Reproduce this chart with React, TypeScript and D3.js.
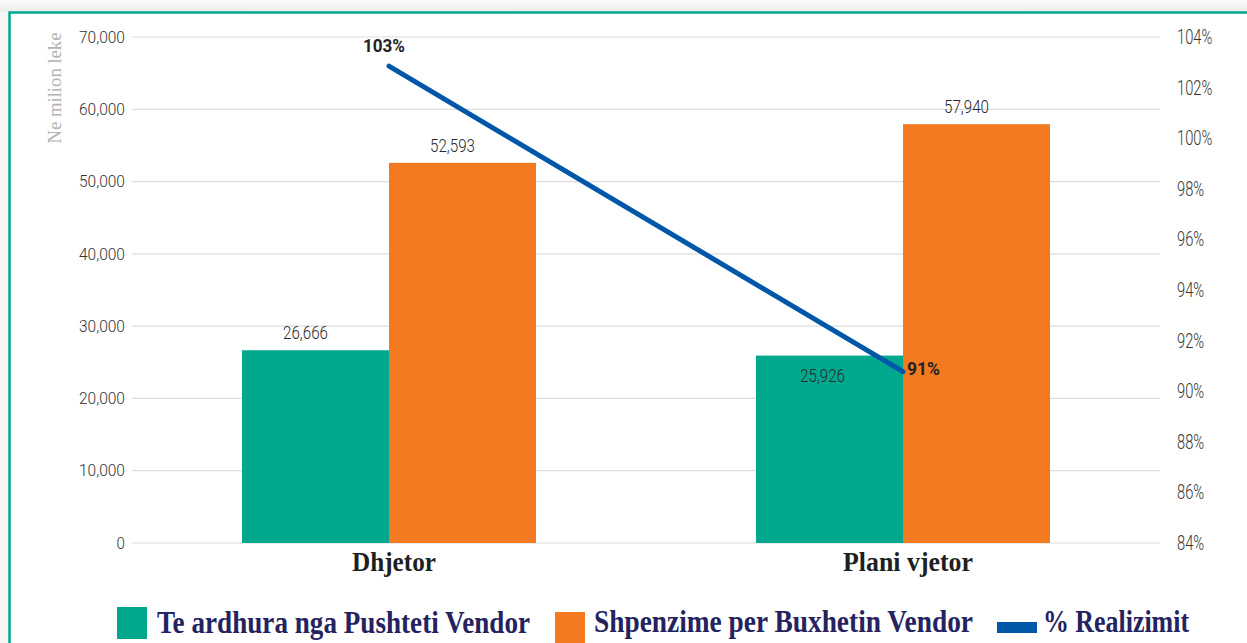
import React from "react";
import * as d3 from "d3";

const categories = ["Dhjetor", "Plani vjetor"];
const revenue = [26666, 25926];
const expenses = [52593, 57940];
const realization = [102.85, 90.77];
const realizationLabels = ["103%", "91%"];
const leftTicks = [0, 10000, 20000, 30000, 40000, 50000, 60000, 70000];
const rightTicks = [84, 86, 88, 90, 92, 94, 96, 98, 100, 102, 104];
const legendLabels = ["Te ardhura nga Pushteti Vendor", "Shpenzime per Buxhetin Vendor", "% Realizimit"];
const yAxisTitle = "Ne milion leke";

const W = 1247;
const H = 643;
const TEAL = "#00a88e";
const ORANGE = "#f47a22";
const BLUE = "#0057a8";
const NAVY = "#25235f";
const SANS = "'Liberation Sans Narrow', Roboto, 'DejaVu Sans Condensed', sans-serif";
const SERIF = "'Liberation Serif', 'DejaVu Serif', serif";

// approximate rendered widths of the condensed numeric face
const numWidth = (s: string, digit: number) =>
  Array.from(s).reduce((a, c) => a + (c === "," ? digit * 0.48 : c === "%" ? digit * 1.35 : digit), 0);

export default function App() {
  const plotL = 132, plotR = 1160, plotT = 37, plotB = 543;
  const y = d3.scaleLinear().domain([0, 70000]).range([plotB, plotT]);
  const y2 = d3.scaleLinear().domain([84, 104]).range([plotB, plotT]);
  const x = d3.scaleBand<string>().domain(categories).range([plotL, plotR]).paddingInner(0.428).paddingOuter(0.214);
  const bw = x.bandwidth() / 2;
  const cx = (c: string) => (x(c) as number) + x.bandwidth() / 2;

  const line = d3
    .line<number>()
    .x((_, i) => cx(categories[i]))
    .y((d) => y2(d));

  const catWidths = [84, 130];
  const legendWidths = [373, 379, 146];

  return (
    <div style={{ position: "absolute", left: 0, top: 0 }}>
      <svg width={W} height={H} style={{ display: "block" }}>
        <defs>
          <linearGradient id="shadeTop" x1="0" y1="0" x2="0" y2="1">
            <stop offset="0" stopColor="#fafafa" />
            <stop offset="1" stopColor="#ededed" />
          </linearGradient>
        </defs>
        <rect x={0} y={0} width={W} height={H} fill="#f6f6f6" />
        <rect x={0} y={0} width={W} height={12} fill="url(#shadeTop)" />
        <rect x={9} y={12} width={W - 9} height={H - 12} fill="#ffffff" />
        <path d={`M9.5,${H} V12.5 H${W}`} fill="none" stroke={TEAL} strokeWidth={2.5} />

        {/* gridlines */}
        {leftTicks.map((t) => (
          <line key={"g" + t} x1={plotL} x2={plotR} y1={y(t)} y2={y(t)} stroke="#dcdcdc" strokeWidth={1.2} />
        ))}

        {/* left axis labels */}
        {leftTicks.map((t) => {
          const s = d3.format(",")(t);
          return (
            <text key={"l" + t} x={125} y={y(t)} dy="0.35em" textAnchor="end" fontFamily={SANS} fontSize={16.5}
              fontWeight={300} fill="#333" textLength={numWidth(s, 8.4)} lengthAdjust="spacingAndGlyphs">
              {s}
            </text>
          );
        })}

        {/* right axis labels */}
        {rightTicks.map((t) => {
          const s = t + "%";
          return (
            <text key={"r" + t} x={1177} y={y2(t)} dy="0.36em" textAnchor="start" fontFamily={SANS} fontSize={19.5}
              fontWeight={300} fill="#333" textLength={numWidth(s, 8.1)} lengthAdjust="spacingAndGlyphs">
              {s}
            </text>
          );
        })}

        {/* y title */}
        <text transform={`translate(61,88) rotate(-90)`} textAnchor="middle" fontFamily={SERIF} fontSize={18}
          fill="#b3b3b3" textLength={111} lengthAdjust="spacingAndGlyphs">
          {yAxisTitle}
        </text>

        {/* bars */}
        {categories.map((c, i) => (
          <g key={"b" + c}>
            <rect x={x(c)} y={y(revenue[i])} width={bw} height={plotB - y(revenue[i])} fill={TEAL} />
            <rect x={(x(c) as number) + bw} y={y(expenses[i])} width={bw} height={plotB - y(expenses[i])} fill={ORANGE} />
          </g>
        ))}

        {/* bar value labels */}
        {categories.map((c, i) => {
          const sr = d3.format(",")(revenue[i]);
          const se = d3.format(",")(expenses[i]);
          const inside = i === 1;
          return (
            <g key={"v" + c}>
              <text x={(x(c) as number) + bw / 2 - (inside ? 7 : 10)} y={y(revenue[i]) + (inside ? 26 : -11)} textAnchor="middle"
                fontFamily={SANS} fontSize={18} fontWeight={300} fill="#2a2a2a" textLength={numWidth(sr, 8.2)} lengthAdjust="spacingAndGlyphs">
                {sr}
              </text>
              <text x={(x(c) as number) + bw * 1.5 - 10} y={y(expenses[i]) - 11} textAnchor="middle"
                fontFamily={SANS} fontSize={18} fontWeight={300} fill="#2a2a2a" textLength={numWidth(se, 8.2)} lengthAdjust="spacingAndGlyphs">
                {se}
              </text>
            </g>
          );
        })}

        {/* realization line */}
        <path d={line(realization) || ""} fill="none" stroke={BLUE} strokeWidth={5} strokeLinecap="round" />
        {realization.map((v, i) => {
          const px = cx(categories[i]);
          const py = y2(v);
          const above = i === 0;
          return (
            <text key={"p" + i} x={above ? px - 5 : px + 4} y={above ? py - 14 : py + 3}
              textAnchor={above ? "middle" : "start"} fontFamily="Roboto, 'Liberation Sans', sans-serif" fontWeight={700}
              fontSize={18.5} fill="#222" textLength={above ? 42 : 33} lengthAdjust="spacingAndGlyphs">
              {realizationLabels[i]}
            </text>
          );
        })}

        {/* category labels */}
        {categories.map((c, i) => (
          <text key={"c" + c} x={cx(c) + 5} y={571} textAnchor="middle" fontFamily={SERIF} fontWeight={700} fontSize={27.5}
            fill="#1f1f1f" textLength={catWidths[i]} lengthAdjust="spacingAndGlyphs">
            {c}
          </text>
        ))}

        {/* legend */}
        <rect x={117} y={607} width={30} height={32} fill={TEAL} />
        <text x={157} y={633} fontFamily={SERIF} fontWeight={700} fontSize={32} fill={NAVY}
          textLength={legendWidths[0]} lengthAdjust="spacingAndGlyphs">
          {legendLabels[0]}
        </text>
        <rect x={555} y={612} width={30} height={32} fill={ORANGE} />
        <text x={594} y={632} fontFamily={SERIF} fontWeight={700} fontSize={32} fill={NAVY}
          textLength={legendWidths[1]} lengthAdjust="spacingAndGlyphs">
          {legendLabels[1]}
        </text>
        <rect x={997} y={622} width={40} height={11} fill={BLUE} />
        <text x={1043} y={632} fontFamily={SERIF} fontWeight={700} fontSize={32} fill={NAVY}
          textLength={legendWidths[2]} lengthAdjust="spacingAndGlyphs">
          {legendLabels[2]}
        </text>
      </svg>
    </div>
  );
}
